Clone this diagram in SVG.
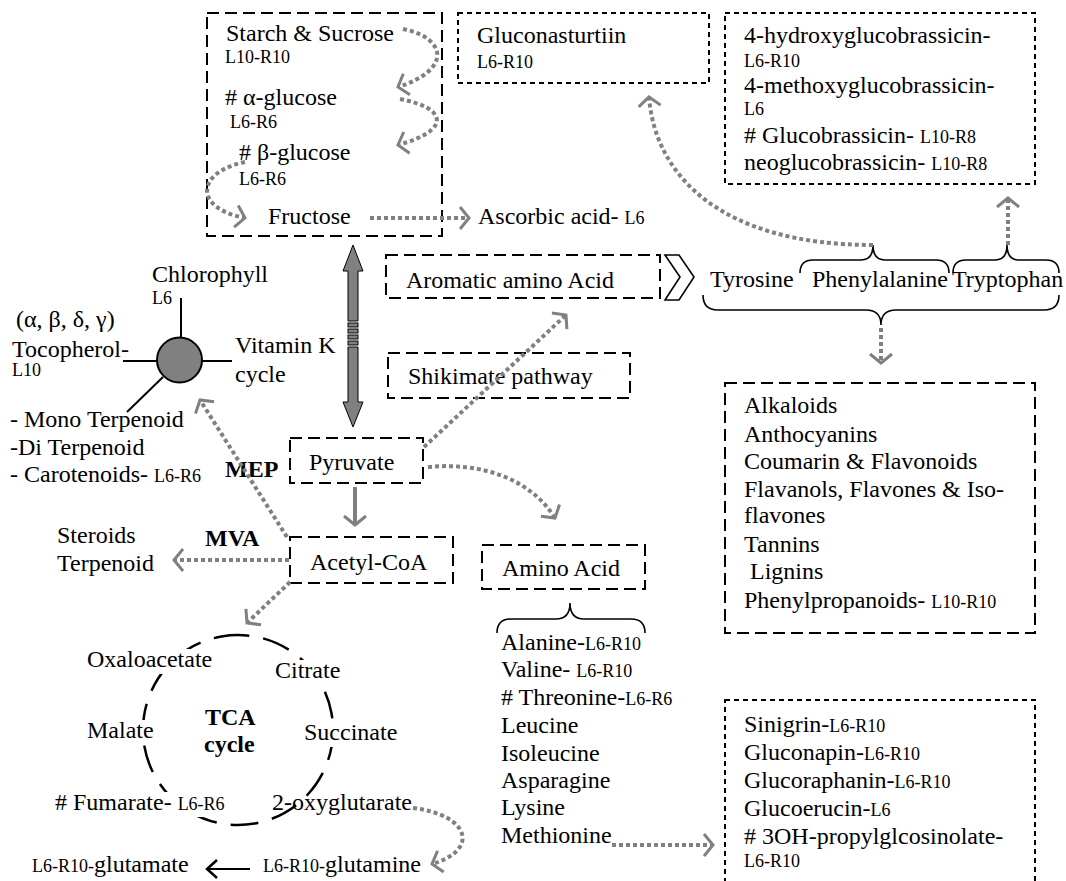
<svg xmlns="http://www.w3.org/2000/svg" width="1066" height="881" viewBox="0 0 1066 881">
<defs>
<style>
text { font-family: "Liberation Serif", "Times New Roman", serif; font-size: 24px; fill: #000; }
.s { font-size: 18px; }
.b { font-weight: bold; }
.box { fill: none; stroke: #000; stroke-width: 2; stroke-dasharray: 12 6; }
.boxs { fill: none; stroke: #000; stroke-width: 2; stroke-dasharray: 5 4; }
.dot { fill: none; stroke: #808080; stroke-width: 4; stroke-dasharray: 4 3; }
.brace { fill: none; stroke: #000; stroke-width: 1.6; }
.ln { stroke: #000; stroke-width: 2; fill: none; }
.bg { fill: #fff; }
</style>
<marker id="ag" markerUnits="userSpaceOnUse" viewBox="-15 -15 30 30" markerWidth="30" markerHeight="30" refX="0" refY="0" orient="auto">
<path d="M-9,-11 L0,0 L-9,11" fill="none" stroke="#808080" stroke-width="3"/>
</marker>
<marker id="ab" markerUnits="userSpaceOnUse" viewBox="-15 -15 30 30" markerWidth="30" markerHeight="30" refX="0" refY="0" orient="auto">
<path d="M-10,-9 L0,0 L-10,9" fill="none" stroke="#000" stroke-width="2.5"/>
</marker>
</defs>
<rect x="0" y="0" width="1066" height="881" fill="#fff"/>

<g id="sugars">
<rect class="box" x="207" y="13" width="235" height="223"/>
<text x="226" y="41">Starch &amp; Sucrose</text>
<text class="s" x="225" y="63">L10-R10</text>
<text x="225" y="105"># α-glucose</text>
<text class="s" x="230" y="128">L6-R6</text>
<text x="239" y="160"># β-glucose</text>
<text class="s" x="239" y="185">L6-R6</text>
<text x="268" y="224">Fructose</text>
</g>

<g id="gluconasturtiin">
<rect class="boxs" x="458" y="13" width="251" height="70"/>
<text x="477" y="43">Gluconasturtiin</text>
<text class="s" x="477" y="68">L6-R10</text>
</g>

<g id="indole-glucosinolates">
<rect class="boxs" x="725" y="13" width="310" height="171"/>
<text x="744" y="43">4-hydroxyglucobrassicin-</text>
<text class="s" x="744" y="67">L6-R10</text>
<text x="744" y="93">4-methoxyglucobrassicin-</text>
<text class="s" x="744" y="115">L6</text>
<text x="744" y="143"># Glucobrassicin- <tspan class="s">L10-R8</tspan></text>
<text x="744" y="170">neoglucobrassicin- <tspan class="s">L10-R8</tspan></text>
</g>

<g id="ascorbic">
<text x="478" y="224">Ascorbic acid- <tspan class="s">L6</tspan></text>
</g>

<g id="chloroplast-hub">
<line class="ln" x1="181" y1="298" x2="181" y2="338"/>
<line class="ln" x1="201" y1="361" x2="232" y2="361"/>
<line class="ln" x1="123" y1="361" x2="157" y2="361"/>
<line class="ln" x1="163" y1="377" x2="127" y2="412"/>
<circle cx="179.5" cy="360" r="22.5" fill="#808080" stroke="#000" stroke-width="2"/>
<text x="152" y="282">Chlorophyll</text>
<text class="s" x="152" y="304">L6</text>
<text x="16" y="327">(α, β, δ, γ)</text>
<text x="12" y="357">Tocopherol-</text>
<text class="s" x="12" y="376">L10</text>
<text x="235" y="353">Vitamin K</text>
<text x="235" y="382">cycle</text>
<text x="10" y="427">- Mono Terpenoid</text>
<text x="10" y="455">-Di Terpenoid</text>
<text x="10" y="482">- Carotenoids- <tspan class="s">L6-R6</tspan></text>
</g>

<g id="aromatic">
<rect class="box" x="386" y="255" width="274" height="43"/>
<text x="406" y="288">Aromatic amino Acid</text>
<polygon points="665,255 679,255 694,277 679,300 665,300 680,277" fill="#fff" stroke="#000" stroke-width="1.6" stroke-linejoin="miter"/>
</g>

<g id="aromatic-aa">
<text x="710" y="287">Tyrosine</text>
<text x="812" y="287">Phenylalanine</text>
<text x="952" y="287">Tryptophan</text>
<path class="brace" d="M800,273 Q800,260 813,260 L861,260 Q873,260 873,245 Q873,260 885,260 L936,260 Q949,260 949,273"/>
<path class="brace" d="M953,273 Q953,260 966,260 L995,260 Q1007,260 1007,245 Q1007,260 1019,260 L1046,260 Q1059,260 1059,273"/>
<path class="brace" d="M703,295 Q703,310 718,310 L866,310 Q881,310 881,325 Q881,310 896,310 L1044,310 Q1059,310 1059,295"/>
</g>

<g id="shikimate">
<rect class="box" x="388" y="353" width="242" height="45"/>
<text x="408" y="384">Shikimate pathway</text>
</g>

<g id="pyruvate">
<rect class="box" x="290" y="438" width="133" height="45"/>
<text x="309" y="470">Pyruvate</text>
<text class="b" x="225" y="477">MEP</text>
</g>

<g id="acetyl-coa">
<rect class="box" x="290" y="537" width="163" height="46"/>
<text x="310" y="570">Acetyl-CoA</text>
<text class="b" x="205" y="546">MVA</text>
</g>

<g id="steroids">
<text x="57" y="543">Steroids</text>
<text x="57" y="571">Terpenoid</text>
</g>

<g id="amino-acid">
<rect class="box" x="482" y="545" width="163" height="44"/>
<text x="502" y="576">Amino Acid</text>
<path class="brace" d="M497,633 Q497,619 511,619 L556,619 Q570,619 570,603 Q570,619 584,619 L631,619 Q645,619 645,633"/>
<text x="501" y="650">Alanine-<tspan class="s">L6-R10</tspan></text>
<text x="501" y="677">Valine- <tspan class="s">L6-R10</tspan></text>
<text x="501" y="705"># Threonine-<tspan class="s">L6-R6</tspan></text>
<text x="501" y="733">Leucine</text>
<text x="501" y="761">Isoleucine</text>
<text x="501" y="788">Asparagine</text>
<text x="501" y="815">Lysine</text>
<text x="501" y="843">Methionine</text>
</g>

<g id="phenylpropanoids">
<rect class="box" x="725" y="383" width="310" height="250"/>
<text x="744" y="413">Alkaloids</text>
<text x="744" y="442">Anthocyanins</text>
<text x="744" y="469">Coumarin &amp; Flavonoids</text>
<text x="744" y="497">Flavanols, Flavones &amp; Iso-</text>
<text x="744" y="523">flavones</text>
<text x="744" y="552">Tannins</text>
<text x="750" y="579">Lignins</text>
<text x="744" y="608">Phenylpropanoids- <tspan class="s">L10-R10</tspan></text>
</g>

<g id="aliphatic-glucosinolates">
<rect class="boxs" x="725" y="700" width="310" height="200"/>
<text x="744" y="732">Sinigrin-<tspan class="s">L6-R10</tspan></text>
<text x="744" y="760">Gluconapin-<tspan class="s">L6-R10</tspan></text>
<text x="744" y="788">Glucoraphanin-<tspan class="s">L6-R10</tspan></text>
<text x="744" y="816">Glucoerucin-<tspan class="s">L6</tspan></text>
<text x="744" y="844"># 3OH-propylglcosinolate-</text>
<text class="s" x="744" y="867">L6-R10</text>
</g>

<g id="tca-cycle">
<circle cx="238" cy="730" r="95" fill="none" stroke="#000" stroke-width="2.5" stroke-dasharray="28 14" transform="rotate(-100 238 730)"/>
<rect class="bg" x="85" y="649" width="130" height="25"/>
<rect class="bg" x="273" y="660" width="72" height="25"/>
<rect class="bg" x="302" y="722" width="98" height="25"/>
<rect class="bg" x="85" y="720" width="70" height="25"/>
<rect class="bg" x="53" y="792" width="175" height="25"/>
<text x="87" y="667">Oxaloacetate</text>
<text x="275" y="678">Citrate</text>
<text class="b" x="205" y="725">TCA</text>
<text class="b" x="204" y="752">cycle</text>
<text x="87" y="738">Malate</text>
<text x="304" y="740">Succinate</text>
<text x="55" y="810"># Fumarate- <tspan class="s">L6-R6</tspan></text>
<text x="272" y="810">2-oxyglutarate</text>
</g>

<g id="glutamine">
<text x="263" y="872"><tspan class="s">L6-R10-</tspan>glutamine</text>
</g>
<g id="glutamate">
<text x="32" y="872"><tspan class="s">L6-R10-</tspan>glutamate</text>
</g>

<g id="connectors">
<path class="dot" d="M403,29 C447,38 452,70 398,87" marker-end="url(#ag)"/>
<path class="dot" d="M400,99 C447,108 452,130 398,145" marker-end="url(#ag)"/>
<path class="dot" d="M245,162 C196,172 193,208 245,218" marker-end="url(#ag)"/>
<path class="dot" d="M370,218 L469,218" marker-end="url(#ag)"/>
<path class="dot" d="M873,245 C720,245 655,175 649,97" marker-end="url(#ag)"/>
<path class="dot" d="M1008,245 L1008,198" marker-end="url(#ag)"/>
<path class="dot" d="M881,328 L881,363" marker-end="url(#ag)"/>
<path d="M353,245 L363,271 L358,271 L358,321 L348,321 L348,271 L343,271 Z" fill="#808080" stroke="#000" stroke-width="1"/>
<rect x="348" y="323" width="10" height="4" fill="#808080" stroke="#000" stroke-width="1"/>
<rect x="348" y="329" width="10" height="4" fill="#808080" stroke="#000" stroke-width="1"/>
<rect x="348" y="335" width="10" height="4" fill="#808080" stroke="#000" stroke-width="1"/>
<rect x="348" y="341" width="10" height="4" fill="#808080" stroke="#000" stroke-width="1"/>
<path d="M348,347 L358,347 L358,402 L363,402 L353,427 L343,402 L348,402 Z" fill="#808080" stroke="#000" stroke-width="1"/>
<path class="dot" d="M424,447 L566,315" marker-end="url(#ag)"/>
<path class="dot" d="M428,467 C480,462 530,478 555,518" marker-end="url(#ag)"/>
<path d="M355,487 L355,525" fill="none" stroke="#808080" stroke-width="4" marker-end="url(#ag)"/>
<path class="dot" d="M287,537 L200,400" marker-end="url(#ag)"/>
<path class="dot" d="M289,560 L174,560" marker-end="url(#ag)"/>
<path class="dot" d="M290,582 L247,623" marker-end="url(#ag)"/>
<path class="dot" d="M612,845 L713,845" marker-end="url(#ag)"/>
<path class="dot" d="M413,808 C470,815 480,850 432,864" marker-end="url(#ag)"/>
<path d="M250,869 L207,869" fill="none" stroke="#000" stroke-width="2" marker-end="url(#ab)"/>
</g>
</svg>
